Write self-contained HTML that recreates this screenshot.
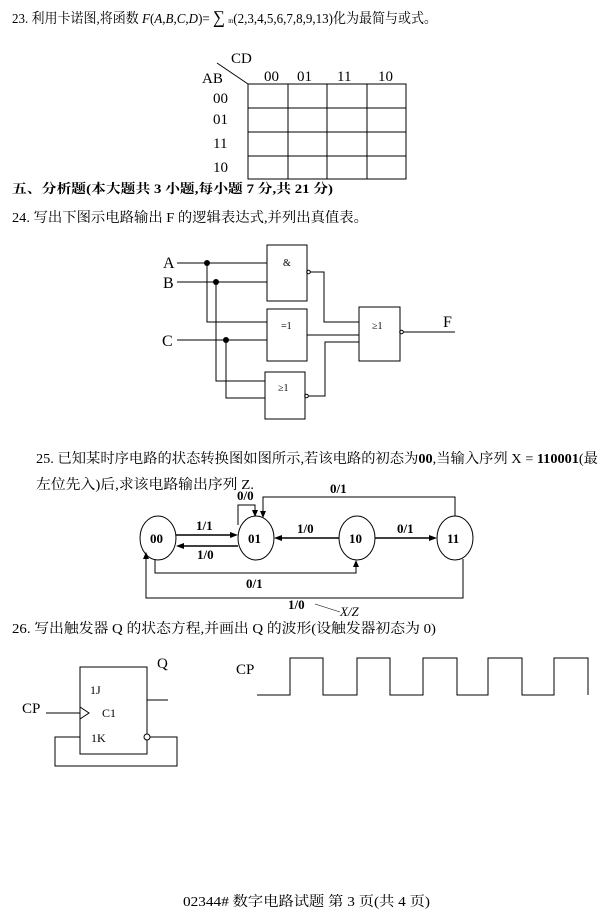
<!DOCTYPE html>
<html><head><meta charset="utf-8"><style>
html,body{margin:0;padding:0;background:#fff;}
svg{display:block;}
text{font-family:"Liberation Serif","Noto Serif CJK SC","Noto Sans CJK SC",serif;fill:#000;}
.b{font-weight:bold;}
</style></head><body>
<svg width="610" height="922" viewBox="0 0 610 922" xmlns="http://www.w3.org/2000/svg">
<g font-size="14">
<text x="12" y="23" textLength="425" lengthAdjust="spacingAndGlyphs">23. 利用卡诺图,将函数 <tspan font-style="italic">F</tspan>(<tspan font-style="italic">A</tspan>,<tspan font-style="italic">B</tspan>,<tspan font-style="italic">C</tspan>,<tspan font-style="italic">D</tspan>)= <tspan font-size="18">∑</tspan> <tspan font-size="7">m</tspan>(2,3,4,5,6,7,8,9,13)化为最简与或式。</text>
<text x="12" y="193" class="b" font-size="13" font-family="Liberation Sans,Noto Sans CJK SC,sans-serif" textLength="321" lengthAdjust="spacingAndGlyphs">五、分析题(本大题共 3 小题,每小题 7 分,共 21 分)</text>
<text x="12" y="222" textLength="356" lengthAdjust="spacingAndGlyphs">24. 写出下图示电路输出 F 的逻辑表达式,并列出真值表。</text>
<text x="36" y="463" textLength="562" lengthAdjust="spacingAndGlyphs">25. 已知某时序电路的状态转换图如图所示,若该电路的初态为<tspan class="b">00</tspan>,当输入序列 X = <tspan class="b">110001</tspan>(最</text>
<text x="36" y="489" textLength="218" lengthAdjust="spacingAndGlyphs">左位先入)后,求该电路输出序列 Z.</text>
<text x="12" y="633" textLength="424" lengthAdjust="spacingAndGlyphs">26. 写出触发器 Q 的状态方程,并画出 Q 的波形(设触发器初态为 0)</text>
<text x="183" y="906" textLength="247" lengthAdjust="spacingAndGlyphs">02344# 数字电路试题 第 3 页(共 4 页)</text>
</g>
<!-- K-map -->
<g stroke="#000" stroke-width="1" fill="none">
<rect x="248" y="84" width="158" height="95"/>
<line x1="288" y1="84" x2="288" y2="179"/><line x1="327" y1="84" x2="327" y2="179"/><line x1="367" y1="84" x2="367" y2="179"/>
<line x1="248" y1="108" x2="406" y2="108"/><line x1="248" y1="132" x2="406" y2="132"/><line x1="248" y1="156" x2="406" y2="156"/>
<line x1="217" y1="63" x2="248" y2="84"/>
</g>
<g font-size="15">
<text x="231" y="63">CD</text><text x="202" y="83">AB</text>
<text x="264" y="81">00</text><text x="297" y="81">01</text><text x="337" y="81">11</text><text x="378" y="81">10</text>
<text x="213" y="103">00</text><text x="213" y="124">01</text><text x="213" y="148">11</text><text x="213" y="172">10</text>
</g>
<!-- circuit -->
<g stroke="#000" stroke-width="1" fill="none">
<rect x="267" y="245" width="40" height="56"/>
<rect x="267" y="309" width="40" height="52"/>
<rect x="265" y="372" width="40" height="47"/>
<rect x="359" y="307" width="41" height="54"/>
<polyline points="177,263 267,263"/><polyline points="177,282 267,282"/>
<polyline points="207,263 207,322 267,322"/>
<polyline points="216,282 216,381 265,381"/>
<polyline points="177,340 267,340"/>
<polyline points="226,340 226,398 265,398"/>
<polyline points="310,272 324,272 324,322 359,322"/>
<polyline points="307,335 359,335"/>
<polyline points="308,396 325,396 325,342 359,342"/>
<polyline points="403,332 455,332"/>
<circle cx="308.5" cy="272" r="1.8"/><circle cx="306.5" cy="396" r="1.8"/><circle cx="401.5" cy="332" r="1.8"/>
</g>
<g fill="#000"><circle cx="207" cy="263" r="3"/><circle cx="216" cy="282" r="3"/><circle cx="226" cy="340" r="3"/></g>
<g font-size="16"><text x="163" y="268">A</text><text x="163" y="288">B</text><text x="162" y="346">C</text><text x="443" y="327">F</text></g>
<g font-size="10"><text x="283" y="266">&amp;</text><text x="281" y="329">=1</text><text x="278" y="391">≥1</text><text x="372" y="329">≥1</text></g>
<!-- state diagram -->
<g stroke="#000" stroke-width="1" fill="none">
<ellipse cx="158" cy="538" rx="18" ry="22"/><ellipse cx="256" cy="538" rx="18" ry="22"/>
<ellipse cx="357" cy="538" rx="18" ry="22"/><ellipse cx="455" cy="538" rx="18" ry="22"/>
<line x1="176" y1="535" x2="233" y2="535" stroke-width="1.5"/>
<line x1="238" y1="546" x2="181" y2="546" stroke-width="1.5"/>
<line x1="339" y1="538" x2="279" y2="538" stroke-width="1.5"/>
<line x1="375" y1="538" x2="432" y2="538" stroke-width="1.5"/>
<polyline points="238,525 238,505 255,505 255,512"/>
<polyline points="455,516 455,497 263,497 263,513"/>
<polyline points="155,560 155,573 356,573 356,565"/>
<polyline points="463,559 463,598 146,598 146,557"/>
<line x1="315" y1="604" x2="340" y2="612" stroke-width="0.6"/>
</g>
<g fill="#000">
<polygon points="238,535 230,532 230,538"/>
<polygon points="176,546 184,543 184,549"/>
<polygon points="274,538 282,535 282,541"/>
<polygon points="437,538 429,535 429,541"/>
<polygon points="255,517 252,510 258,510"/>
<polygon points="263,518 260,511 266,511"/>
<polygon points="356,560 353,567 359,567"/>
<polygon points="146,552 143,559 149,559"/>
</g>
<g font-size="13" class="b">
<text x="150" y="543">00</text><text x="248" y="543">01</text><text x="349" y="543">10</text><text x="447" y="543">11</text>
<text x="196" y="530">1/1</text><text x="197" y="559">1/0</text>
<text x="297" y="533">1/0</text><text x="397" y="533">0/1</text>
<text x="237" y="500">0/0</text><text x="330" y="493">0/1</text>
<text x="246" y="588">0/1</text><text x="288" y="609">1/0</text>
</g>
<text x="340" y="616" font-size="13" font-style="italic">X/Z</text>
<!-- flip-flop -->
<g stroke="#000" stroke-width="1" fill="none">
<rect x="80" y="667" width="67" height="87"/>
<line x1="147" y1="700" x2="168" y2="700"/>
<line x1="46" y1="713" x2="80" y2="713"/>
<polyline points="80,707 89,713 80,719"/>
<circle cx="147" cy="737" r="3" fill="#fff"/>
<polyline points="80,737 55,737 55,766 177,766 177,737 150,737"/>
<polyline points="257,695 290,695 290,658 323,658 323,695 357,695 357,658 390,658 390,695 423,695 423,658 457,658 457,695 488,695 488,658 522,658 522,695 554,695 554,658 588,658 588,695"/>
</g>
<g font-size="12" font-family="Liberation Serif,serif">
<text x="90" y="694">1J</text><text x="102" y="717">C1</text><text x="91" y="742">1K</text>
</g>
<g font-size="15"><text x="157" y="668">Q</text><text x="22" y="713">CP</text><text x="236" y="674">CP</text></g>
</svg>
</body></html>
